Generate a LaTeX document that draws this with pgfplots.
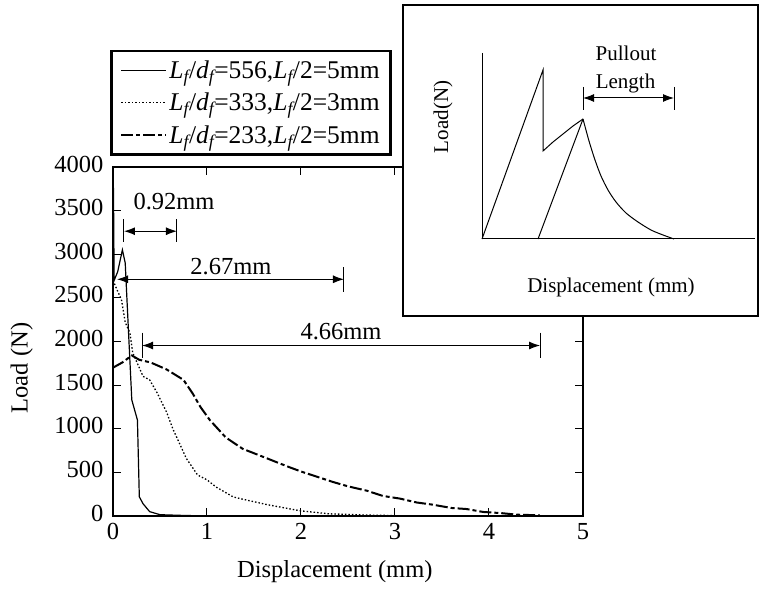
\documentclass[border=0pt]{standalone}
\usepackage{fontspec}
\setmainfont{Liberation Serif}
\usepackage{pgfplots}
\pgfplotsset{compat=1.18}
\usetikzlibrary{arrows.meta}
\newcommand{\Lf}{\textit{L\textsubscript{f}}}
\newcommand{\df}{\textit{d\textsubscript{f}}}
\begin{document}
\begin{tikzpicture}[font=\fontsize{24.5bp}{28bp}\selectfont]
\path[use as bounding box] (0,0) rectangle (762bp,591bp);
\begin{axis}[
  at={(113bp,75bp)}, anchor=south west,
  scale only axis, width=470bp, height=349bp,
  xmin=0, xmax=5, ymin=0, ymax=4000,
  xtick={0,1,2,3,4,5}, ytick={0,500,...,4000},
  tick align=inside, major tick length=8bp,
  /pgf/number format/assume math mode=true,
  /pgf/number format/1000 sep={},
  axis line style={line width=1.3bp},
  tick style={line width=1bp, black},
  xticklabel style={yshift=-4bp},
  yticklabel style={xshift=-6bp, yshift=3bp},
  xlabel={Displacement (mm)}, ylabel={Load (N)},
  xlabel style={at={(axis description cs:0.472,-0.16)}, anchor=center},
  ylabel style={at={(axis description cs:-0.194,0.424)}, anchor=center},
  legend style={at={(axis description cs:-0.0064,1.0315)}, anchor=south west,
    draw=black, line width=2.8bp, inner xsep=9bp, inner ysep=8bp, row sep=9bp,
    font=\fontsize{25.5bp}{28bp}\selectfont},
  legend cell align=left,
  legend image code/.code={\draw[#1] (0bp,0bp) -- (45bp,0bp);},
]
\addplot[black, line width=1.2bp] coordinates {
(0,0)(0.005,3760)(0.012,2700)(0.05,2800)(0.1,3050)(0.13,2900)(0.17,2000)
(0.2,1330)(0.26,1100)(0.28,220)(0.32,140)(0.39,50)(0.5,15)(0.7,8)(1.0,0)};
\addlegendentry{\Lf/\df=556,\Lf/2=5mm}
\addplot[black, line width=1.3bp, dash pattern=on 1.5bp off 2bp] coordinates {
(0,2700)(0.04,2600)(0.09,2480)(0.13,2220)(0.18,2100)(0.21,1870)(0.32,1600)
(0.39,1560)(0.47,1410)(0.57,1190)(0.64,990)(0.7,850)(0.78,660)(0.9,470)
(1.0,414)(1.1,330)(1.28,218)(1.35,200)(1.64,130)(1.99,60)(2.3,25)(2.7,11)(3.0,5)};
\addlegendentry{\Lf/\df=333,\Lf/2=3mm}
\addplot[black, line width=2bp, dash pattern=on 12bp off 3bp on 4bp off 3bp] coordinates {
(0,1700)(0.1,1760)(0.2,1840)(0.28,1790)(0.4,1760)(0.57,1680)(0.75,1560)
(0.85,1400)(0.93,1250)(1.03,1100)(1.2,900)(1.38,770)(1.64,660)(1.85,570)
(2.0,510)(2.17,450)(2.34,390)(2.5,340)(2.7,290)(2.87,230)(3.05,200)(3.23,155)
(3.4,130)(3.6,92)(3.76,80)(3.94,46)(4.12,34)(4.3,15)(4.54,8)};
\addlegendentry{\Lf/\df=233,\Lf/2=5mm}
% annotations
\draw[line width=1bp, {Latex[length=11bp,width=8bp]}-{Latex[length=11bp,width=8bp]}] (axis cs:0.117,3264) -- (axis cs:0.68,3264);
\draw[line width=1bp] (axis cs:0.117,3402) -- (axis cs:0.117,3138);
\draw[line width=1bp] (axis cs:0.68,3402) -- (axis cs:0.68,3138);
\node at (axis cs:0.649,3609) {0.92mm};
\draw[line width=1bp, {Latex[length=11bp,width=8bp]}-{Latex[length=11bp,width=8bp]}] (axis cs:0.043,2713) -- (axis cs:2.457,2713);
\draw[line width=1bp] (axis cs:2.457,2851) -- (axis cs:2.457,2563);
\node at (axis cs:1.255,2862) {2.67mm};
\draw[line width=1bp, {Latex[length=11bp,width=8bp]}-{Latex[length=11bp,width=8bp]}] (axis cs:0.309,1954) -- (axis cs:4.543,1954);
\draw[line width=1bp] (axis cs:0.309,2103) -- (axis cs:0.309,1816);
\draw[line width=1bp] (axis cs:4.543,2103) -- (axis cs:4.543,1816);
\node at (axis cs:2.426,2115) {4.66mm};
\end{axis}
\begin{axis}[
  at={(403bp,275bp)}, anchor=south west,
  scale only axis, width=355bp, height=311bp,
  xmin=0, xmax=355, ymin=0, ymax=311,
  axis background/.style={fill=white},
  xtick=\empty, ytick=\empty,
  axis line style={line width=1.3bp},
  clip=false,
]
\addplot[black, line width=1bp] coordinates {(79,263)(79,77)(352,77)};
\addplot[black, line width=1bp] coordinates {(79,77)(140,246)(140,165)(150,174)(160,182)(170,190)(180,197)};
\addplot[black, line width=1bp] coordinates {(135,77)(180,197)};
\addplot[black, line width=1bp, smooth] coordinates {(180,197)(186,175)(192,156)(198,140)(205,126)(213,114)(223,103)(235,94)(248,86)(260,81)(271,77)};
\draw[line width=1bp, {Latex[length=11bp,width=8bp]}-{Latex[length=11bp,width=8bp]}] (axis cs:180,218) -- (axis cs:271,218);
\draw[line width=1bp] (axis cs:180,229) -- (axis cs:180,206);
\draw[line width=1bp] (axis cs:271,229) -- (axis cs:271,206);
\node[font=\fontsize{21bp}{24bp}\selectfont] at (axis cs:223,263) {Pullout};
\node[font=\fontsize{21bp}{24bp}\selectfont] at (axis cs:222.5,233) {Length};
\node[font=\fontsize{21bp}{24bp}\selectfont, rotate=90] at (axis cs:40,199) {Load(N)};
\node[font=\fontsize{21bp}{24bp}\selectfont] at (axis cs:208,29) {Displacement (mm)};
\end{axis}
\end{tikzpicture}
\end{document}
